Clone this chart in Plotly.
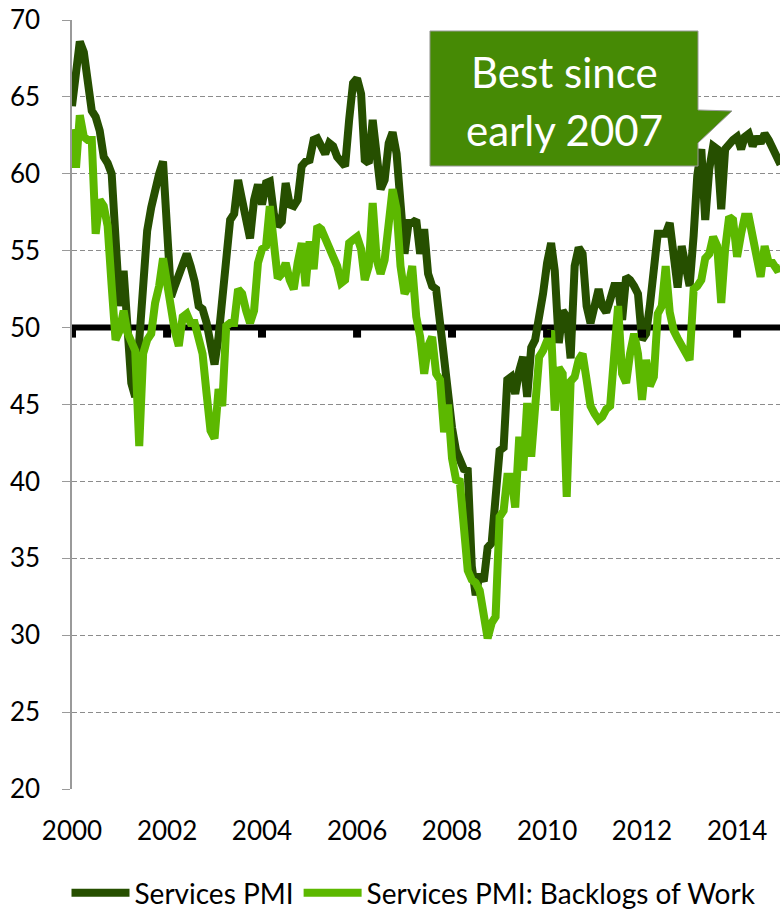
import pandas as pd
import plotly.graph_objects as go

# Monthly data, Jan 2000 .. Dec 2014
start_month = "2000-01-01"
services_pmi = [
    64.4, 66.8, 68.6, 67.9, 66.1, 64.1, 63.7, 62.8, 61.1, 60.7, 60.0, 55.9,
    51.4, 53.7, 50.5, 46.4, 45.5, 49.5, 52.0, 56.3, 57.8, 59.0, 60.0, 60.8,
    56.6, 52.0, 52.7, 53.5, 54.4, 54.8, 54.0, 53.0, 51.4, 51.2, 50.3, 48.8,
    47.6, 49.4, 51.8, 54.4, 57.0, 57.4, 59.6, 58.3, 57.0, 55.8, 58.3, 59.3,
    58.0, 59.4, 59.5, 57.4, 56.6, 56.9, 59.4, 58.0, 57.9, 58.3, 60.5, 60.8,
    60.9, 62.2, 62.3, 61.8, 61.3, 62.0, 61.8, 61.1, 60.7, 60.5, 63.5, 65.9,
    66.2, 65.2, 60.9, 60.7, 63.5, 60.5, 59.0, 59.6, 62.0, 62.7, 61.3, 58.1,
    54.8, 56.8, 56.8, 57.0, 54.8, 56.4, 53.5, 52.7, 52.5, 50.3, 48.1, 45.3,
    43.5, 42.0, 41.3, 40.8, 40.7, 34.5, 32.6, 34.0, 33.5, 35.7, 36.0, 38.6,
    42.0, 42.2, 46.6, 46.8, 45.7, 47.2, 48.1, 45.5, 48.7, 49.2, 50.5, 52.2,
    54.2, 55.5, 53.7, 49.0, 51.1, 50.7, 48.0, 54.0, 55.2, 54.8, 51.4, 50.3,
    51.4, 52.5, 51.4, 51.0, 51.8, 52.7, 52.7, 50.5, 53.3, 53.1, 52.7, 52.2,
    49.2, 49.6, 51.4, 53.8, 56.1, 56.1, 56.1, 56.8, 54.6, 52.6, 55.3, 54.2,
    52.7, 56.0, 59.9, 61.6, 57.0, 60.3, 61.8, 61.6, 57.7, 61.6, 62.0, 62.2,
    62.4, 61.6, 62.4, 62.6, 61.8, 62.4, 62.0, 62.6, 62.2, 61.6, 60.9, 60.6,
]
backlogs_of_work = [
    62.9, 60.4, 63.8, 62.4, 62.2, 62.2, 56.1, 58.3, 57.9, 56.6, 52.7, 49.2,
    49.8, 51.1, 49.7, 49.2, 48.5, 42.3, 48.3, 49.2, 49.6, 51.6, 52.7, 54.5,
    52.7, 50.9, 49.8, 48.8, 50.7, 50.9, 50.3, 50.3, 49.2, 48.3, 45.7, 43.3,
    42.8, 46.0, 44.9, 50.1, 50.3, 50.3, 52.5, 52.2, 51.1, 50.3, 51.1, 54.2,
    55.1, 55.3, 57.9, 55.3, 53.2, 53.5, 54.2, 53.1, 52.5, 54.2, 55.5, 52.7,
    55.6, 53.8, 56.6, 56.4, 55.7, 55.1, 54.6, 54.0, 52.9, 53.1, 55.5, 55.7,
    55.9, 55.1, 53.1, 54.0, 58.1, 54.4, 53.5, 54.4, 56.6, 59.0, 57.7, 54.0,
    52.2, 52.7, 54.0, 50.7, 49.4, 47.0, 48.8, 49.4, 47.0, 46.6, 43.2, 45.0,
    41.5, 40.1, 40.0, 37.0, 34.2, 33.6, 33.4, 32.9, 31.2, 29.8, 30.8, 31.2,
    37.7, 38.1, 40.3, 40.3, 38.3, 42.9, 40.7, 45.1, 41.6, 45.5, 48.1, 48.5,
    49.2, 49.8, 44.6, 47.4, 47.0, 39.0, 46.5, 46.8, 47.9, 48.3, 46.6, 44.9,
    44.4, 44.0, 44.2, 44.7, 44.9, 48.3, 51.4, 47.0, 46.4, 48.3, 49.6, 48.3,
    45.3, 47.9, 46.2, 46.8, 50.9, 51.4, 54.0, 51.0, 49.8, 49.3, 48.8, 48.3,
    47.9, 52.5, 52.7, 53.1, 54.5, 54.8, 55.9, 55.3, 51.6, 55.1, 57.2, 57.0,
    54.6, 56.1, 57.2, 57.2, 56.1, 54.4, 53.3, 55.3, 54.2, 54.2, 53.8, 53.9,
]
tick_years = [2000, 2002, 2004, 2006, 2008, 2010, 2012, 2014]
y_ticks = [20, 25, 30, 35, 40, 45, 50, 55, 60, 65, 70]
threshold = 50
x_end = "2014-11-27"

dates = pd.date_range(start_month, periods=len(services_pmi), freq="MS")

DARK = "#264f00"
LIGHT = "#5cb800"
BOX = "#468a05"
FONT = "Lato"

fig = go.Figure()
# 50 line (the x axis crossing), drawn first so the series sit on top of it
fig.add_trace(go.Scatter(x=[start_month, x_end], y=[threshold, threshold], mode="lines",
                         line=dict(color="black", width=6), showlegend=False,
                         hoverinfo="skip"))
fig.add_trace(go.Scatter(x=dates, y=services_pmi, mode="lines", name="Services PMI",
                         line=dict(color=DARK, width=8)))
fig.add_trace(go.Scatter(x=dates, y=backlogs_of_work, mode="lines",
                         name="Services PMI: Backlogs of Work",
                         line=dict(color=LIGHT, width=8)))

for yr in tick_years:
    fig.add_shape(type="rect", xref="x", yref="y", xsizemode="pixel", ysizemode="pixel",
                  xanchor=f"{yr}-01-01", x0=-4, x1=4, yanchor=threshold, y0=-2, y1=-10,
                  fillcolor="black", line=dict(width=0), layer="above")

# callout box
W, H, L, T = 780, 911, 72, 20
PW, PH = 708, 769
def px(x):
    return (x - L) / PW
def py(y):
    return (T + PH - y) / PH
pts = [(430, 31), (698, 31), (698, 110), (732, 111), (698, 143), (698, 166), (430, 166)]
path = "M " + " L ".join(f"{px(a):.4f},{py(b):.4f}" for a, b in pts) + " Z"
fig.add_shape(type="path", xref="paper", yref="paper", path=path,
              fillcolor=BOX, line=dict(color="#9a9a9a", width=1), layer="above")
fig.add_annotation(xref="paper", yref="paper", x=px(564), y=py(72), text="Best since",
                   showarrow=False, font=dict(family=FONT, size=42, color="white"),
                   xanchor="center", yanchor="middle")
fig.add_annotation(xref="paper", yref="paper", x=px(564), y=py(130), text="early 2007",
                   showarrow=False, font=dict(family=FONT, size=42, color="white"),
                   xanchor="center", yanchor="middle")

fig.update_layout(
    width=W, height=H,
    margin=dict(l=L, r=0, t=T, b=H - T - PH, autoexpand=False),
    paper_bgcolor="white", plot_bgcolor="white",
    font=dict(family=FONT, size=26, color="black"),
    showlegend=True,
    legend=dict(orientation="h", xref="paper", yref="paper", x=px(414), y=py(893),
                xanchor="center", yanchor="middle", font=dict(size=28), itemwidth=58,
                traceorder="normal", tracegroupgap=0),
    xaxis=dict(type="date", range=[start_month, x_end], automargin=False,
               tickvals=[f"{y}-01-01" for y in tick_years],
               ticktext=[str(y) for y in tick_years],
               showgrid=False, showline=False, zeroline=False, ticks="",
               ticklabelstandoff=24),
    yaxis=dict(range=[20, 70], tickvals=y_ticks, showgrid=True, gridcolor="#8c8c8c",
               gridwidth=1.2, griddash="5px,3px", showline=True, linecolor="#9a9a9a",
               linewidth=1.5, zeroline=False, ticks="outside", ticklen=8, automargin=False,
               tickcolor="#9a9a9a", tickwidth=1.2, ticklabelstandoff=17),
)

fig.write_html("out.html", config={"displayModeBar": False},
               post_script="document.body.style.margin='0px';"
                           "document.body.style.overflow='hidden';")
